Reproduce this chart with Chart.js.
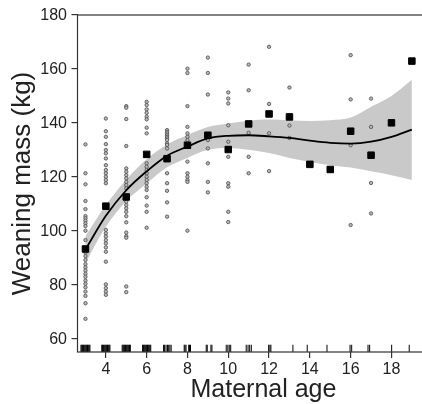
<!DOCTYPE html>
<html>
<head>
<meta charset="utf-8">
<script src="https://cdn.jsdelivr.net/npm/chart.js@4.4.1/dist/chart.umd.min.js"></script>
<style>
  html, body { margin: 0; padding: 0; background: #fff; overflow: hidden; }
  #wrap { width: 455px; height: 404px; }
</style>
</head>
<body>
<div id="wrap"><canvas id="myChart" width="455" height="404"></canvas></div>
<script>
/*----------- data ------------ */
const ages = [3, 4, 5, 6, 7, 8, 9, 10, 11, 12, 13, 14, 15, 16, 17, 18, 19];

// mean weaning mass per maternal age (black squares)
const meanMass = [93.2, 109.1, 112.5, 128.3, 126.7, 131.7, 135.4, 130.1, 139.6,
                  143.3, 142.2, 124.6, 122.7, 136.9, 128, 140, 162.9];

// individual weaning masses, one list per age
const obsMass = [
    [132, 121.3, 117.2, 111, 108, 105.4, 104.6, 103.7, 102.7, 101.7, 100, 96.5, 91.9, 90.6,
     89.1, 87.6, 86.4, 85.2, 84, 82.9, 81.5, 80.3, 79, 77.4, 75.8, 73.1, 67.3],
    [141.6, 136.9, 134.8, 132.1, 129.9, 128.7, 126.8, 124.3, 122.5, 121.3, 120, 118.8, 117.6,
     100.3, 99, 97.8, 96.5, 95.3, 93.8, 92.2, 88.5, 80.1, 78.7, 77.4, 76.2],
    [146.2, 145.6, 141.4, 131.4, 123.1, 121.9, 120.6, 119.4, 118.1, 116.9, 115.7, 110.7, 109.5,
     108.3, 107, 105.4, 103.1, 99.3, 98, 97.4, 79.3, 77.2],
    [147.8, 146.6, 145, 143.7, 142.3, 141.3, 138.2, 136.1, 125, 123.7, 122.5, 121.3, 120, 118.8,
     117.6, 116.3, 115.1, 112.4, 109.3, 107, 101.1],
    [137.3, 136.7, 136.1, 135.4, 134.8, 134.2, 133.6, 132.4, 131.8, 130.5, 121.3, 117.6, 114.8,
     110.5, 105.2],
    [160.1, 158.5, 146.2, 138.5, 136.1, 134.8, 133.6, 125.6, 121.3, 120, 118.8, 118.1, 100],
    [164.2, 158.5, 150.5, 133.6, 130.5, 125, 118.1, 114.2],
    [151.3, 149, 147.2, 139.1, 133, 127.4, 117.6, 116.3, 107, 103.2],
    [161.6, 152.1, 136.3, 127.4, 121.3],
    [168.2, 147, 136.1, 122.1],
    [153.1, 139, 134.4],
    [124.6],
    [122.7],
    [165.1, 148.7, 131.7, 102.1],
    [149, 138.5, 117.7, 106.4],
    [140],
    [162.9]
];

// smoothed fit and its confidence band
const fitMass  = [93, 105.5, 115, 122, 127.8, 131.2, 134.2, 135.2, 135.4, 135, 134.4, 133.4,
                  132.6, 132.3, 133, 134.8, 137.5];
const fitLower = [88, 101.5, 111, 117.5, 123.5, 127, 130, 130.7, 130, 128.8, 127, 125.5,
                  124.3, 123.4, 122, 120.6, 118.8];
const fitUpper = [98, 109.5, 119, 126.5, 132, 135.5, 138.5, 139.8, 140.8, 141.2, 141, 140.7,
                  141, 142, 146, 150, 156];

// rug of maternal ages along the bottom
const rugAges = [
    2.78, 2.82, 2.86, 2.9, 2.94, 2.98, 3.02, 3.06, 3.1, 3.14, 3.18, 3.22,
    3.8, 3.84, 3.88, 3.92, 3.96, 4.0, 4.04, 4.08, 4.12, 4.16, 4.2,
    4.8, 4.84, 4.88, 4.92, 4.96, 5.0, 5.04, 5.08, 5.12, 5.16, 5.2,
    5.8, 5.84, 5.88, 5.92, 5.96, 6.0, 6.04, 6.08, 6.12, 6.16, 6.2,
    6.83, 6.88, 6.95, 7.02, 7.08, 7.14, 7.2,
    7.84, 7.88, 7.93, 8.06, 8.1, 8.15,
    8.92, 8.97, 9.15, 9.2,
    9.9, 9.98, 10.05, 10.12,
    10.88, 10.97, 11.05, 11.13,
    11.98, 12.04, 12.09,
    13.17, 13.87, 14.84, 15.97, 16.05, 16.85, 16.93, 18.01, 18.87
];

const xTicks = [4, 6, 8, 10, 12, 14, 16, 18];
const yTicks = [60, 80, 100, 120, 140, 160, 180];

/*----------- chart ------------ */
const family = "'Liberation Sans', Arial, Helvetica, sans-serif";
const ink = '#222';
const rugLevel = 56.35;

const toPoints = (xs, ys) => xs.map((x, i) => ({x: x, y: ys[i]}));

const obsPoints = [];
ages.forEach((a, i) => obsMass[i].forEach(m => obsPoints.push({x: a, y: m})));

// box around the plot region
const frame = {
    id: 'frame',
    afterDatasetsDraw(chart) {
        const {ctx, chartArea: a} = chart;
        ctx.save();
        ctx.strokeStyle = '#333';
        ctx.lineWidth = 1.2;
        ctx.strokeRect(a.left, a.top, a.right - a.left, a.bottom - a.top);
        ctx.restore();
    }
};

const config = {
    type: 'scatter',
    data: {
        datasets: [{
            label: 'lower',
            type: 'line',
            data: toPoints(ages, fitLower),
            borderWidth: 0,
            pointRadius: 0,
            fill: false,
            cubicInterpolationMode: 'monotone',
            order: 5
        }, {
            label: 'upper',
            type: 'line',
            data: toPoints(ages, fitUpper),
            borderWidth: 0,
            pointRadius: 0,
            fill: '-1',
            backgroundColor: '#c9c9c9',
            cubicInterpolationMode: 'monotone',
            order: 4
        }, {
            label: 'observed',
            data: obsPoints,
            pointRadius: 1.7,
            borderWidth: 0.8,
            borderColor: '#4a4a4a',
            backgroundColor: '#b8b8b8',
            order: 3
        }, {
            label: 'rug',
            data: rugAges.map(a => ({x: a, y: rugLevel})),
            pointStyle: 'line',
            rotation: 90,
            pointRadius: 3.6,
            borderWidth: 1,
            borderColor: '#000',
            order: 3
        }, {
            label: 'fit',
            type: 'line',
            data: toPoints(ages, fitMass),
            borderColor: '#000',
            borderWidth: 1.8,
            pointRadius: 0,
            fill: false,
            cubicInterpolationMode: 'monotone',
            order: 2
        }, {
            label: 'mean',
            data: toPoints(ages, meanMass),
            pointStyle: 'rect',
            pointRadius: 4.6,
            borderWidth: 1,
            borderColor: '#000',
            backgroundColor: '#000',
            order: 1
        }]
    },
    options: {
        responsive: false,
        animation: false,
        devicePixelRatio: 1,
        layout: { padding: { top: 15, right: 1, bottom: 0, left: 0 } },
        plugins: { legend: { display: false }, tooltip: { enabled: false } },
        scales: {
            x: {
                type: 'linear',
                min: 2.61,
                max: 20.84,
                afterBuildTicks: s => { s.ticks = xTicks.map(v => ({value: v})); },
                afterFit: s => { s.height = 52; },
                grid: { drawOnChartArea: false, tickLength: 6, color: '#333', lineWidth: 1.2 },
                border: { display: false },
                ticks: { font: { family: family, size: 16 }, color: ink, padding: 2, maxRotation: 0, autoSkip: false },
                title: {
                    display: true, text: 'Maternal age', color: ink,
                    font: { family: family, size: 25, lineHeight: 1 },
                    padding: { top: 0, bottom: 1.5 }
                }
            },
            y: {
                min: 55,
                max: 180,
                afterBuildTicks: s => { s.ticks = yTicks.map(v => ({value: v})); },
                afterFit: s => { s.width = 77.5; },
                grid: { drawOnChartArea: false, tickLength: 6, color: '#333', lineWidth: 1.2 },
                border: { display: false },
                ticks: { font: { family: family, size: 16 }, color: ink, padding: 4.5, labelOffset: 1 },
                title: {
                    display: true, text: 'Weaning mass (kg)', color: ink,
                    font: { family: family, size: 26, lineHeight: 1.2 },
                    padding: { top: 7, bottom: 0 }
                }
            }
        }
    },
    plugins: [frame]
};

const myChart = new Chart(document.getElementById('myChart'), config);
</script>
</body>
</html>
